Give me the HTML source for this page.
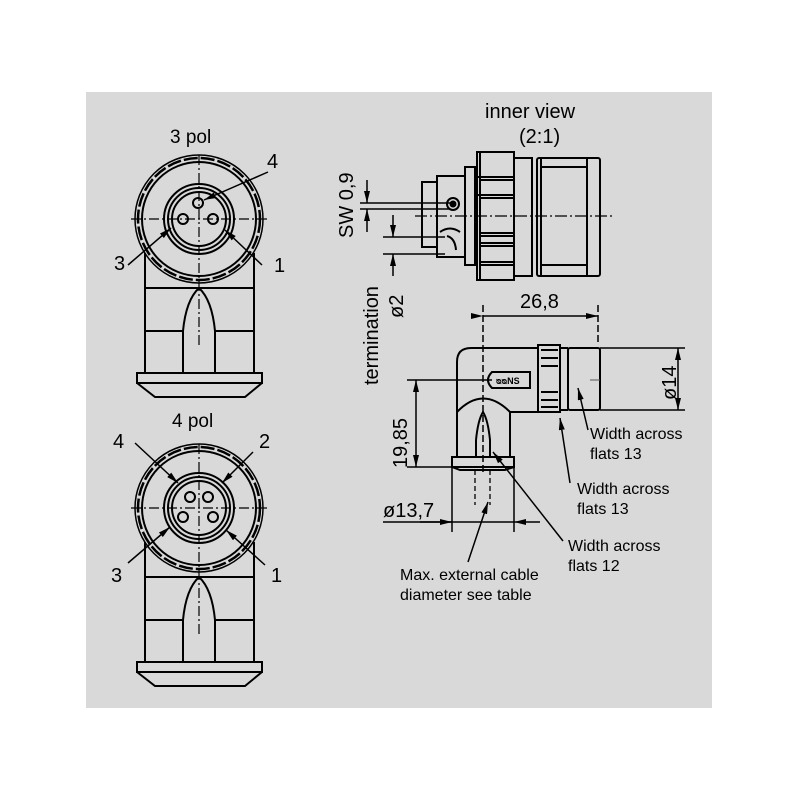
<!DOCTYPE html>
<html><head><meta charset="utf-8"><style>
html,body{margin:0;padding:0;background:#fff;}
svg{display:block;}
text{font-family:"Liberation Sans",sans-serif;fill:#000;}
</style></head><body>
<svg width="800" height="800" viewBox="0 0 800 800" xmlns="http://www.w3.org/2000/svg">
<defs>
<marker id="a" viewBox="0 0 12 6" refX="12" refY="3" markerWidth="12" markerHeight="6" orient="auto" markerUnits="userSpaceOnUse"><path d="M0,0 L12,3 L0,6z" fill="#000"/></marker>
<g id="body" fill="none" stroke="#000" stroke-width="2">
<circle cx="199" cy="219" r="64" stroke-width="1.5"/>
<circle cx="199" cy="219" r="61" stroke-width="2.5" stroke-dasharray="14 3"/>
<circle cx="199" cy="219" r="57"/>
<circle cx="199" cy="219" r="35"/>
<circle cx="199" cy="219" r="31"/>
<circle cx="199" cy="219" r="27"/>
<line x1="131" y1="219" x2="267" y2="219" stroke-width="1.2" stroke-dasharray="10 3 2 3"/>
<line x1="199" y1="155" x2="199" y2="345" stroke-width="1.2" stroke-dasharray="10 3 2 3"/>
<line x1="145" y1="253" x2="145" y2="373"/>
<line x1="254" y1="253" x2="254" y2="373"/>
<line x1="145" y1="288" x2="254" y2="288"/>
<line x1="145" y1="331" x2="183" y2="331"/>
<line x1="215" y1="331" x2="254" y2="331"/>
<path d="M183,373 L183,331 Q186,300 199,288 Q212,300 215,331 L215,373"/>
<rect x="137" y="373" width="125" height="10"/>
<path d="M137,383 L155,397 L245,397 L262,383"/>
</g>
</defs>
<rect x="86" y="92" width="626" height="616" fill="#d9d9d9"/>

<!-- 3 pol -->
<use href="#body"/>
<g fill="none" stroke="#000" stroke-width="2">
<circle cx="198" cy="203" r="5"/><circle cx="183" cy="219" r="5"/><circle cx="213" cy="219" r="5"/>
</g>
<g stroke="#000" stroke-width="1.5">
<line x1="268" y1="172" x2="204" y2="200" marker-end="url(#a)"/>
<line x1="128" y1="265" x2="171" y2="228" marker-end="url(#a)"/>
<line x1="262" y1="265" x2="225" y2="230" marker-end="url(#a)"/>
</g>
<text x="170" y="143" font-size="19">3 pol</text>
<text x="267" y="168" font-size="20">4</text>
<text x="114" y="270" font-size="20">3</text>
<text x="274" y="272" font-size="20">1</text>

<!-- 4 pol -->
<use href="#body" transform="translate(0,289)"/>
<g fill="none" stroke="#000" stroke-width="2">
<circle cx="190" cy="497" r="5"/><circle cx="208" cy="497" r="5"/><circle cx="183" cy="517" r="5"/><circle cx="213" cy="517" r="5"/>
</g>
<g stroke="#000" stroke-width="1.5">
<line x1="135" y1="443" x2="178" y2="483" marker-end="url(#a)"/>
<line x1="253" y1="452" x2="222" y2="483" marker-end="url(#a)"/>
<line x1="128" y1="563" x2="170" y2="527" marker-end="url(#a)"/>
<line x1="265" y1="565" x2="226" y2="530" marker-end="url(#a)"/>
</g>
<text x="172" y="427" font-size="19">4 pol</text>
<text x="113" y="448" font-size="20">4</text>
<text x="259" y="448" font-size="20">2</text>
<text x="111" y="582" font-size="20">3</text>
<text x="271" y="582" font-size="20">1</text>

<!-- inner view -->
<text x="485" y="118" font-size="20">inner view</text>
<text x="519" y="143" font-size="20">(2:1)</text>
<g fill="none" stroke="#000" stroke-width="2">
<rect x="422" y="182" width="15" height="65"/>
<rect x="437" y="176" width="28" height="81"/>
<rect x="465" y="167" width="10" height="98"/>
<rect x="477" y="152" width="37" height="128"/>
<line x1="480" y1="152" x2="480" y2="280"/>
<line x1="477" y1="177" x2="514" y2="177"/><line x1="480" y1="180" x2="514" y2="180"/>
<line x1="477" y1="195" x2="514" y2="195"/><line x1="480" y1="198" x2="514" y2="198"/>
<line x1="480" y1="233" x2="514" y2="233"/><line x1="480" y1="236" x2="514" y2="236"/>
<line x1="480" y1="243" x2="514" y2="243"/><line x1="480" y1="246" x2="514" y2="246"/>
<line x1="480" y1="262" x2="514" y2="262"/><line x1="480" y1="265" x2="514" y2="265"/>
<rect x="514" y="158" width="18" height="118"/>
<rect x="537" y="158" width="63" height="118" rx="2"/>
<line x1="541" y1="167" x2="587" y2="167"/><line x1="541" y1="265" x2="587" y2="265"/>
<line x1="541" y1="158" x2="541" y2="276"/><line x1="587" y1="158" x2="587" y2="276"/>
<circle cx="453" cy="204" r="6"/><circle cx="453" cy="204" r="2.5" fill="#000"/>
<path d="M440,232 Q450,225 460,232 M447,236 Q455,238 456,250"/>
</g>
<line x1="415" y1="216" x2="612" y2="216" stroke="#000" stroke-width="1.2" stroke-dasharray="12 3 2 3"/>
<g stroke="#000" stroke-width="1.5">
<line x1="360" y1="203" x2="450" y2="203"/><line x1="360" y1="209" x2="450" y2="209"/>
<line x1="367" y1="180" x2="367" y2="203" marker-end="url(#a)"/>
<line x1="367" y1="232" x2="367" y2="209" marker-end="url(#a)"/>
<line x1="383" y1="237" x2="445" y2="237"/><line x1="383" y1="254" x2="445" y2="254"/>
<line x1="393" y1="215" x2="393" y2="237" marker-end="url(#a)"/>
<line x1="393" y1="276" x2="393" y2="254" marker-end="url(#a)"/>
</g>
<text transform="translate(353,238) rotate(-90)" font-size="20">SW 0,9</text>
<text transform="translate(378,385) rotate(-90)" font-size="20">termination</text>
<text transform="translate(403,318) rotate(-90)" font-size="20">ø2</text>

<!-- side view -->
<g stroke="#000" stroke-width="1.5" fill="none">
<line x1="483" y1="305" x2="483" y2="475" stroke-dasharray="7 3"/>
<line x1="598" y1="305" x2="598" y2="345" stroke-dasharray="7 3"/>
<line x1="483" y1="316" x2="598" y2="316" marker-start="url(#a)" marker-end="url(#a)"/>
</g>
<text x="520" y="308" font-size="20">26,8</text>
<g fill="none" stroke="#000" stroke-width="2">
<path d="M457,457 L457,362 Q457,348 471,348 L538,348"/>
<line x1="510" y1="412" x2="538" y2="412"/>
<rect x="538" y="345" width="22" height="67"/>
<line x1="541" y1="350" x2="558" y2="350"/><line x1="541" y1="358" x2="558" y2="358"/><line x1="541" y1="366" x2="558" y2="366"/>
<line x1="541" y1="392" x2="558" y2="392"/><line x1="541" y1="400" x2="558" y2="400"/><line x1="541" y1="407" x2="558" y2="407"/>
<rect x="568" y="348" width="32" height="62" rx="2"/>
<line x1="560" y1="348" x2="568" y2="348"/><line x1="560" y1="410" x2="568" y2="410"/>
<path d="M457,412 Q483,385 510,412 L510,457"/>
<path d="M476,440 Q478,420 483,412 Q488,420 490,440 L490,457 M476,440 L476,457"/>
<rect x="452" y="457" width="62" height="10"/>
<path d="M452,467 L460,470 L505,470 L514,467"/>
<path d="M492,372 L530,372 L530,388 L492,388 Q484,380 492,372z"/>
</g>
<text x="496" y="384" font-size="9" font-weight="bold">ᴓᴓNS</text>
<line x1="600" y1="380" x2="590" y2="380" stroke="#555" stroke-width="1"/>
<g stroke="#000" stroke-width="1.3" stroke-dasharray="5 3" fill="none">
<line x1="475" y1="470" x2="475" y2="505"/><line x1="490" y1="470" x2="490" y2="505"/>
</g>
<g stroke="#000" stroke-width="1.5" fill="none">
<line x1="600" y1="348" x2="685" y2="348"/><line x1="600" y1="410" x2="685" y2="410"/>
<line x1="678" y1="380" x2="678" y2="348" marker-end="url(#a)"/>
<line x1="678" y1="380" x2="678" y2="410" marker-end="url(#a)"/>
<line x1="407" y1="380" x2="492" y2="380"/><line x1="407" y1="467" x2="452" y2="467"/>
<line x1="416" y1="420" x2="416" y2="380" marker-end="url(#a)"/>
<line x1="416" y1="420" x2="416" y2="467" marker-end="url(#a)"/>
<line x1="452" y1="467" x2="452" y2="532"/><line x1="514" y1="467" x2="514" y2="532"/>
<line x1="383" y1="522" x2="514" y2="522"/>
<line x1="420" y1="522" x2="452" y2="522" marker-end="url(#a)"/>
<line x1="540" y1="522" x2="514" y2="522" marker-end="url(#a)"/>
<line x1="468" y1="562" x2="488" y2="502" marker-end="url(#a)"/>
<line x1="563" y1="541" x2="493" y2="452" marker-end="url(#a)"/>
<line x1="570" y1="483" x2="560" y2="418" marker-end="url(#a)"/>
<line x1="588" y1="430" x2="578" y2="388" marker-end="url(#a)"/>
</g>
<text transform="translate(676,400) rotate(-90)" font-size="20">ø14</text>
<text transform="translate(407,468) rotate(-90)" font-size="20">19,85</text>
<text x="383" y="517" font-size="20">ø13,7</text>
<g font-size="16">
<text x="590" y="439">Width across</text><text x="590" y="459">flats 13</text>
<text x="577" y="494">Width across</text><text x="577" y="514">flats 13</text>
<text x="568" y="551">Width across</text><text x="568" y="571">flats 12</text>
<text x="400" y="580">Max. external cable</text><text x="400" y="600">diameter see table</text>
</g>
</svg>
</body></html>
